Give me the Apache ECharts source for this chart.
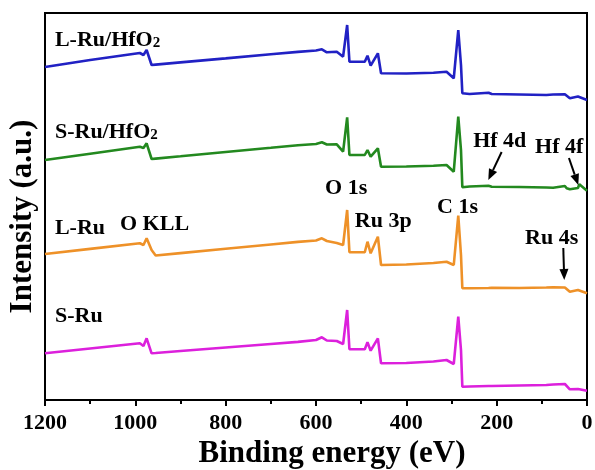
<!DOCTYPE html>
<html>
<head>
<meta charset="utf-8">
<script src="https://cdn.jsdelivr.net/npm/echarts@6/dist/echarts.min.js"></script>
<style>
html,body{margin:0;padding:0;background:#fff;}
#chart{width:595px;height:470px;}
</style>
</head>
<body>
<div id="chart"></div>
<script>
// Binding energy (eV) sample points
const energy = [1200, 1100, 990, 982, 975, 964, 955, 900, 800, 700, 640, 600, 587, 576, 554, 540, 531, 526, 492, 486, 479, 463, 456, 400, 340, 311, 295, 285, 279, 276, 260, 218, 211, 150, 90, 75, 49, 45, 38, 20, 17, 0];

// Intensities (a.u., offset stacked as in the figure)
const lRuHfO2 = [333, 340, 347, 345, 350, 335, 335.4, 337.6, 341.6, 345.7, 348.1, 349.5, 350.7, 347.7, 348.3, 343.3, 375, 338.3, 338.3, 344.3, 334.3, 346.7, 326.7, 326.5, 327.2, 328.3, 321.7, 370, 335, 306.7, 306, 307.3, 306, 305.5, 305, 305.5, 305.7, 304, 301.7, 303.5, 302.5, 300];
const sRuHfO2 = [240, 246.3, 253.3, 252, 256.7, 241, 241.4, 243.7, 248, 252.2, 254.8, 256, 257.7, 255.5, 255.7, 248.3, 282.7, 245, 245, 250, 243.3, 251.7, 233.3, 233.5, 234.2, 235, 228.3, 283.3, 250, 212.7, 213.5, 214.3, 213.3, 213, 212.5, 212.3, 214, 211.7, 210.7, 212, 215.7, 209.3];
const lRu = [146, 151.1, 156.7, 155, 161.7, 150, 144.5, 146.9, 151.2, 155.5, 158.1, 159.5, 161.7, 159, 157, 155, 190, 147.7, 147.7, 158.3, 146.7, 163.3, 135, 135.5, 137, 138.3, 135, 184.3, 145, 111.7, 111.7, 112, 112.3, 112, 112.5, 112.7, 112.5, 114, 108.3, 110, 109, 106.7];
const sRu = [46.7, 51.5, 56.7, 54, 61.7, 46.7, 47, 49, 52.5, 56, 58.1, 60, 62.7, 59.5, 59, 56, 90, 50.7, 50.7, 57.7, 49.3, 61.7, 36.7, 37, 38.5, 40, 36, 83.3, 50, 13.3, 13.5, 14, 14, 14.5, 15, 15.5, 16, 16.7, 10.7, 11, 10.5, 9.3];

// Tick labels of the energy axis
const energyTicks = [1200, 1000, 800, 600, 400, 200, 0];

// Text annotations: [text, energy, intensity]
const labels = [
  ['L-Ru/HfO{sub|2}', 1178, 360],
  ['S-Ru/HfO{sub|2}', 1178, 268],
  ['L-Ru', 1178, 172],
  ['O KLL', 1034, 176],
  ['S-Ru', 1178, 84],
  ['O 1s', 580, 212],
  ['Ru 3p', 514, 179],
  ['C 1s', 332, 193],
  ['Hf 4d', 252, 259],
  ['Hf 4f', 115, 253],
  ['Ru 4s', 137, 162]
];
// Arrows: [fromE, fromI, toE, toI]
const arrows = [
  [189, 248, 218.5, 220],
  [40, 242, 19.3, 215],
  [52.5, 152, 50.3, 120]
];

const FONT = "'Liberation Serif', 'Times New Roman', serif";
const chart = echarts.init(document.getElementById('chart'), null, {renderer: 'canvas'});

function pairs(vals) { return energy.map((e, i) => [e, vals[i]]); }

const seriesDefs = [
  ['L-Ru/HfO2', lRuHfO2, '#2121c4'],
  ['S-Ru/HfO2', sRuHfO2, '#23891f'],
  ['L-Ru', lRu, '#ee9128'],
  ['S-Ru', sRu, '#dc20dc']
];

chart.setOption({
  animation: false,
  backgroundColor: '#fff',
  grid: {left: 45, right: 8, top: 13, bottom: 70, show: true, borderColor: '#000', borderWidth: 2, backgroundColor: 'transparent', containLabel: false, outerBoundsMode: 'none'},
  xAxis: {
    type: 'value', min: 0, max: 1200, interval: 200, inverse: true,
    name: 'Binding energy (eV)', nameLocation: 'middle', nameGap: 31,
    nameTextStyle: {fontFamily: FONT, fontWeight: 'bold', fontSize: 31, color: '#000', padding: [0, 0, 0, 32]},
    axisLine: {show: true, lineStyle: {color: '#000', width: 2}},
    axisTick: {show: true, inside: false, length: 6, lineStyle: {color: '#000', width: 2}},
    minorTick: {show: true, splitNumber: 2, length: 4, lineStyle: {color: '#000', width: 2}},
    splitLine: {show: false},
    axisLabel: {
      fontFamily: FONT, fontWeight: 'bold', fontSize: 22, color: '#000', margin: 12,
      showMinLabel: true, showMaxLabel: true,
      formatter: v => energyTicks.includes(v) ? String(v) : ''
    }
  },
  yAxis: {
    type: 'value', min: 0, max: 387,
    name: 'Intensity (a.u.)', nameLocation: 'middle', nameGap: 7,
    nameTextStyle: {fontFamily: FONT, fontWeight: 'bold', fontSize: 31, color: '#000', padding: [0, 20, 0, 0]},
    axisLine: {show: true, lineStyle: {color: '#000', width: 2}},
    axisTick: {show: false},
    axisLabel: {show: false},
    splitLine: {show: false}
  },
  series: seriesDefs.map(([name, vals, color]) => ({
    name, type: 'line', data: pairs(vals), showSymbol: false, symbol: 'none',
    lineStyle: {color, width: 2.6}, z: 3
  }))
});

function px(e, v) { return chart.convertToPixel({xAxisIndex: 0, yAxisIndex: 0}, [e, v]); }

const graphics = [];
labels.forEach(([t, e, v]) => {
  const p = px(e, v);
  graphics.push({
    type: 'text', x: p[0], y: p[1], z: 10,
    style: {
      text: t, fill: '#000', font: `bold 22px ${FONT}`,
      align: 'left', verticalAlign: 'middle',
      rich: {sub: {fontFamily: FONT, fontWeight: 'bold', fontSize: 15, lineHeight: 14, verticalAlign: 'bottom', padding: [10, 0, 0, 0]}}
    }
  });
});
arrows.forEach(([e1, v1, e2, v2]) => {
  const a = px(e1, v1), b = px(e2, v2);
  const dx = b[0] - a[0], dy = b[1] - a[1];
  const len = Math.hypot(dx, dy), ux = dx / len, uy = dy / len;
  const hl = 11, hw = 4.5;
  const base = [b[0] - ux * hl, b[1] - uy * hl];
  graphics.push({type: 'line', z: 10, shape: {x1: a[0], y1: a[1], x2: base[0], y2: base[1]}, style: {stroke: '#000', lineWidth: 2}});
  graphics.push({type: 'polygon', z: 10, shape: {points: [b, [base[0] - uy * hw, base[1] + ux * hw], [base[0] + uy * hw, base[1] - ux * hw]]}, style: {fill: '#000'}});
});
chart.setOption({graphic: graphics});
</script>
</body>
</html>
